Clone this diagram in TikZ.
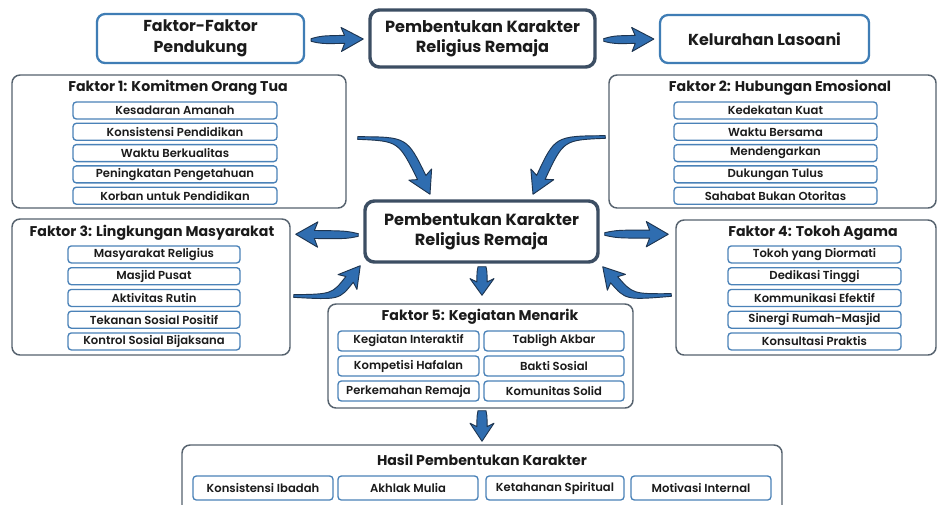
\documentclass[tikz,border=0pt]{standalone}
\usepackage{fontspec}
\setmainfont{Poppins}
\newfontfamily\itemfont{Poppins SemiBold}
\usetikzlibrary{calc}
\definecolor{bluebd}{HTML}{3F7DB5}
\definecolor{darkbd}{HTML}{3C4E63}
\definecolor{panelbd}{HTML}{56626E}
\definecolor{itembd}{HTML}{4A82B8}
\definecolor{arrfill}{HTML}{2F6DB0}
\definecolor{arrline}{HTML}{1E3550}
\definecolor{txt}{HTML}{1B1B1B}
\newcommand\fatarr[7]{%
  \coordinate (fa-h) at ($(#3)!#4!(#2)$);
  \coordinate (fa-b) at ($(#3)!#4+2.5pt!(#2)$);
  \path[arrowshape] ($(#1)!#5!90:(#2)$) .. controls ($(#2)!#6!90:(fa-h)$) .. ($(fa-h)!#6!90:(#3)$)
    -- ($(fa-b)!#7!90:(#3)$) -- (#3) -- ($(fa-b)!#7!-90:(#3)$) -- ($(fa-h)!#6!-90:(#3)$)
    .. controls ($(#2)!#6!-90:(fa-h)$) .. ($(#1)!#5!-90:(#2)$) -- cycle;}
\begin{document}
\begin{tikzpicture}[x=0.75pt,y=-0.75pt,
  wh/.style 2 args={minimum width=#1*0.75pt, minimum height=#2*0.75pt},
  bluebox/.style={draw=bluebd, line width=1.7pt, rounded corners=6pt, fill=white, align=center,
    text=txt, font=\bfseries\fontsize{11.9}{15.5}\selectfont, inner sep=0pt},
  darkbox/.style={draw=darkbd, line width=2.6pt, rounded corners=7pt, fill=white, align=center,
    text=txt, font=\bfseries\fontsize{12.1}{15}\selectfont, inner sep=0pt},
  panel/.style={draw=panelbd, line width=1.1pt, rounded corners=6pt, fill=white, inner sep=0pt},
  ptitle/.style={text=txt, font=\bfseries\fontsize{10.6}{12}\selectfont, inner sep=0pt},
  item/.style={draw=itembd, line width=1pt, rounded corners=2.5pt, fill=white, text=txt,
    font=\itemfont\fontsize{8.7}{10}\selectfont, inner sep=0pt},
  arrowshape/.style={fill=arrfill, draw=arrline, line width=0.7pt, line join=round}
]
\useasboundingbox (0,0) rectangle (939,504);
\fill[white] (0,0) rectangle (939,504);

% top row
\node[bluebox, wh={207}{49}] (pend) at (200.5,38.5) {Faktor-Faktor\\Pendukung};
\node[darkbox, wh={225}{57}] (top) at (482.5,38.5) {Pembentukan Karakter\\Religius Remaja};
\node[bluebox, wh={209}{48}] (kel) at (764.5,39) {Kelurahan Lasoani};

% factor 1
\node[panel, wh={334}{133}] (f1) at (179,141.5) {};
\node[ptitle] (f1t) at (178,88) {Faktor 1: Komitmen Orang Tua};
\foreach \t [count=\i] in {Kesadaran Amanah, Konsistensi Pendidikan, Waktu Berkualitas, Peningkatan Pengetahuan, Korban untuk Pendidikan}
  \node[item, wh={204}{17}] (f1i\i) at (175,{89.2+21.3*\i}) {\t};

% factor 2
\node[panel, wh={327}{133}] (f2) at (772.5,141.5) {};
\node[ptitle] (f2t) at (780,88) {Faktor 2: Hubungan Emosional};
\foreach \t [count=\i] in {Kedekatan Kuat, Waktu Bersama, Mendengarkan, Dukungan Tulus, Sahabat Bukan Otoritas}
  \node[item, wh={203}{17}] (f2i\i) at (775.5,{89.2+21.3*\i}) {\t};

% center
\node[darkbox, wh={233}{61}] (cen) at (481.5,231.5) {Pembentukan Karakter\\Religius Remaja};

% factor 3
\node[panel, wh={278}{136}] (f3) at (151,287) {};
\node[ptitle] (f3t) at (152,233) {Faktor 3: Lingkungan Masyarakat};
\foreach \t [count=\i] in {Masyarakat Religius, Masjid Pusat, Aktivitas Rutin, Tekanan Sosial Positif, Kontrol Sosial Bijaksana}
  \node[item, wh={172}{17}] (f3i\i) at (154,{232.7+21.75*\i}) {\t};

% factor 4
\node[panel, wh={260}{135}] (f4) at (806,287.5) {};
\node[ptitle] (f4t) at (813,233) {Faktor 4: Tokoh Agama};
\foreach \t [count=\i] in {Tokoh yang Diormati, Dedikasi Tinggi, Kommunikasi Efektif, Sinergi Rumah-Masjid, Konsultasi Praktis}
  \node[item, wh={173}{17}] (f4i\i) at (814.5,{232.7+21.75*\i}) {\t};

% factor 5
\node[panel, wh={305}{104}] (f5) at (480.5,356) {};
\node[ptitle] (f5t) at (480,317) {Faktor 5: Kegiatan Menarik};
\foreach \t [count=\i] in {Kegiatan Interaktif, Kompetisi Hafalan, Perkemahan Remaja}
  \node[item, wh={141}{20}] (f5l\i) at (408.5,{316+25*\i}) {\t};
\foreach \t [count=\i] in {Tabligh Akbar, Bakti Sosial, Komunitas Solid}
  \node[item, wh={140}{20}] (f5r\i) at (554,{316+25*\i}) {\t};

% hasil
\node[panel, wh={600}{84}] (hasil) at (482,487) {};
\node[ptitle] (hasilt) at (482,460) {Hasil Pembentukan Karakter};
\node[item, wh={140}{24}] (h1) at (263,488) {Konsistensi Ibadah};
\node[item, wh={140}{24}] (h2) at (408,488) {Akhlak Mulia};
\node[item, wh={138}{24}] (h3) at (555,488) {Ketahanan Spiritual};
\node[item, wh={140}{24}] (h4) at (701,488) {Motivasi Internal};

% arrows: top row
\coordinate (a1s) at ($(pend.east)+(6,1.5)$);
\coordinate (a1e) at ($(top.west)+(-5,0.5)$);
\coordinate (a1c) at ($(a1s)!0.2!(a1e)$);
\fatarr{a1s}{a1c}{a1e}{14pt}{1pt}{3pt}{9pt}
\coordinate (a2s) at ($(top.east)+(7,1.5)$);
\coordinate (a2e) at ($(kel.west)+(-5,0)$);
\coordinate (a2c) at ($(a2s)!0.2!(a2e)$);
\fatarr{a2s}{a2c}{a2e}{14pt}{1pt}{3pt}{9pt}

% curved from factor 1 and 2
\coordinate (a3s) at ($(f1.east)+(11,-3.5)$);
\coordinate (a3c) at ($(a3s)+(45,1)$);
\coordinate (a3e) at ($(cen.north)+(-51.5,-5)$);
\fatarr{a3s}{a3c}{a3e}{14pt}{1pt}{3.5pt}{9.5pt}
\coordinate (a4s) at ($(f2.west)+(-3,-4.5)$);
\coordinate (a4c) at ($(a4s)+(-46,1)$);
\coordinate (a4e) at ($(cen.north)+(51.5,-5)$);
\fatarr{a4s}{a4c}{a4e}{14pt}{1pt}{3.5pt}{9.5pt}

% center to factor 3 and 4
\coordinate (a5s) at ($(cen.west)+(-5,3.5)$);
\coordinate (a5e) at ($(f3.north east)+(5,16)$);
\coordinate (a5c) at ($(a5s)!0.2!(a5e)$);
\fatarr{a5s}{a5c}{a5e}{14pt}{1pt}{3pt}{9.5pt}
\coordinate (a7s) at ($(cen.east)+(5,2.5)$);
\coordinate (a7e) at ($(f4.north west)+(-7,15)$);
\coordinate (a7c) at ($(a7s)!0.2!(a7e)$);
\fatarr{a7s}{a7c}{a7e}{14pt}{1pt}{3pt}{9.5pt}

% curved from factor 3 and 4
\coordinate (a6s) at ($(f3.east)+(3,9)$);
\coordinate (a6c) at ($(a6s)+(42,1)$);
\coordinate (a6e) at ($(cen.south west)+(-3,2)$);
\fatarr{a6s}{a6c}{a6e}{13pt}{1pt}{3.5pt}{9pt}
\coordinate (a8s) at ($(f4.west)+(-4,7.5)$);
\coordinate (a8c) at ($(a8s)+(-42,2)$);
\coordinate (a8e) at ($(cen.south east)+(3,3)$);
\fatarr{a8s}{a8c}{a8e}{13pt}{1pt}{3.5pt}{9pt}

% vertical arrows
\coordinate (a9s) at ($(cen.south)+(0.5,3)$);
\coordinate (a9e) at ($(f5.north)+(1.5,-8)$);
\coordinate (a9c) at ($(a9s)!0.15!(a9e)$);
\fatarr{a9s}{a9c}{a9e}{10pt}{3pt}{3.8pt}{9pt}
\coordinate (a10s) at ($(f5.south)+(1.5,2)$);
\coordinate (a10e) at ($(hasil.north)+(0,-3)$);
\coordinate (a10c) at ($(a10s)!0.15!(a10e)$);
\fatarr{a10s}{a10c}{a10e}{11pt}{3pt}{3.8pt}{9pt}
\end{tikzpicture}
\end{document}
